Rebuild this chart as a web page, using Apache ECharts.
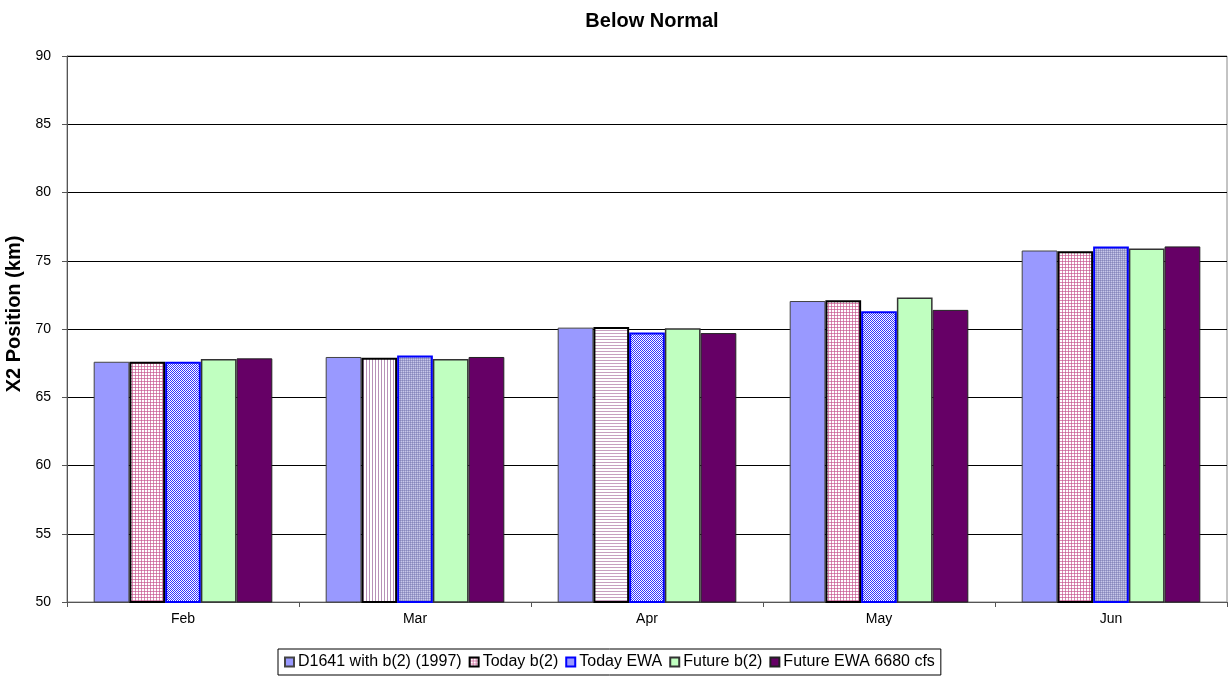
<!DOCTYPE html>
<html><head><meta charset="utf-8">
<script src="https://cdn.jsdelivr.net/npm/echarts@6/dist/echarts.min.js"></script>
<style>html,body{margin:0;padding:0;background:#fff}#c{width:1230px;height:677px}</style>
</head><body><div id="c"></div>
<script>
const categories = ['Feb','Mar','Apr','May','Jun'];
const seriesNames = ['D1641 with b(2) (1997)','Today b(2)','Today EWA','Future b(2)','Future EWA 6680 cfs'];
const d1641 = [67.6, 67.95, 70.1, 72.05, 75.75];
const todayB2 = [67.6, 67.9, 70.15, 72.1, 75.7];
const todayEWA = [67.6, 68.05, 69.75, 71.3, 76.05];
const futureB2 = [67.8, 67.8, 70.05, 72.3, 75.9];
const futureEWA = [67.85, 67.95, 69.7, 71.4, 76.05];
const yTicks = [50,55,60,65,70,75,80,85,90];

function tile(w,h,cells){
  const c=document.createElement('canvas');c.width=w;c.height=h;
  const g=c.getContext('2d');g.fillStyle='#fff';g.fillRect(0,0,w,h);
  cells.forEach(([x,y,col])=>{g.fillStyle=col;g.fillRect(x,y,1,1);});
  return {image:c,repeat:'repeat'};
}
const pinkGrid = tile(3,3,[[0,0,'#cc6699'],[1,0,'#d98cb3'],[2,0,'#d98cb3'],[0,1,'#d98cb3'],[0,2,'#d98cb3']]);
const pinkV = tile(3,1,[[0,0,'#b890b8']]);
const pinkH = tile(1,3,[[0,0,'#c8a0c0']]);
const blueCheck = tile(2,2,[[0,0,'#3333ff'],[1,1,'#3333ff']]);
const lavGrid = tile(2,2,[[0,0,'#8888bb'],[1,0,'#a0a0d0'],[0,1,'#a0a0d0'],[1,1,'#c8c8e8']]);

const b2Patterns = [pinkGrid,pinkV,pinkH,pinkGrid,pinkGrid];
const ewaPatterns = [blueCheck,lavGrid,blueCheck,blueCheck,lavGrid];

function mk(name,vals,color,border,bw,patterns){
  return {name,type:'bar',barGap:'0%',barCategoryGap:'23%',
    itemStyle:{color:patterns?patterns[0]:color,borderColor:border,borderWidth:bw},
    data:vals.map((v,i)=>patterns?{value:v,itemStyle:{color:patterns[i]}}:v)};
}

const chart=echarts.init(document.getElementById('c'));
chart.setOption({
  animation:false,
  textStyle:{fontFamily:'Liberation Sans, Arial, sans-serif'},
  title:{text:'Below Normal',left:647,textAlign:'center',top:6,textStyle:{fontSize:20,fontWeight:'bold',color:'#000'}},
  grid:{left:67,right:3,top:56,bottom:75,show:true,borderColor:'#888',borderWidth:1,outerBoundsMode:'none',containLabel:false},
  legend:{bottom:2,left:278,icon:'rect',itemWidth:9,itemHeight:9,itemGap:7,padding:[5,6,5,6],
    borderColor:'#000',borderWidth:1,borderRadius:0,textStyle:{fontSize:16,color:'#000',padding:[0,0,0,-1]},
    data:seriesNames},
  xAxis:{type:'category',data:categories,
    axisLine:{lineStyle:{color:'#555',width:1}},
    axisTick:{show:true,length:5,lineStyle:{color:'#555'}},
    axisLabel:{fontSize:14,color:'#000',margin:10}},
  yAxis:{type:'value',min:50,max:90,interval:5,
    name:'X2 Position (km)',nameLocation:'middle',nameGap:33,
    nameTextStyle:{fontSize:20,fontWeight:'bold',color:'#000',padding:[0,0,0,30]},
    axisLine:{show:true,lineStyle:{color:'#555',width:1}},
    axisTick:{show:true,length:5,lineStyle:{color:'#555'}},
    axisLabel:{fontSize:14,color:'#000',margin:16,formatter:v=>yTicks.includes(v)?String(v):''},
    splitLine:{show:true,lineStyle:{color:'#000',width:1}}},
  series:[
    mk(seriesNames[0],d1641,'#9999ff','#444',1),
    mk(seriesNames[1],todayB2,null,'#000',2,b2Patterns),
    mk(seriesNames[2],todayEWA,null,'#0000ff',2,ewaPatterns),
    mk(seriesNames[3],futureB2,'#c0ffc0','#333',1.5),
    mk(seriesNames[4],futureEWA,'#660066','#222',1)
  ]
});
</script></body></html>
